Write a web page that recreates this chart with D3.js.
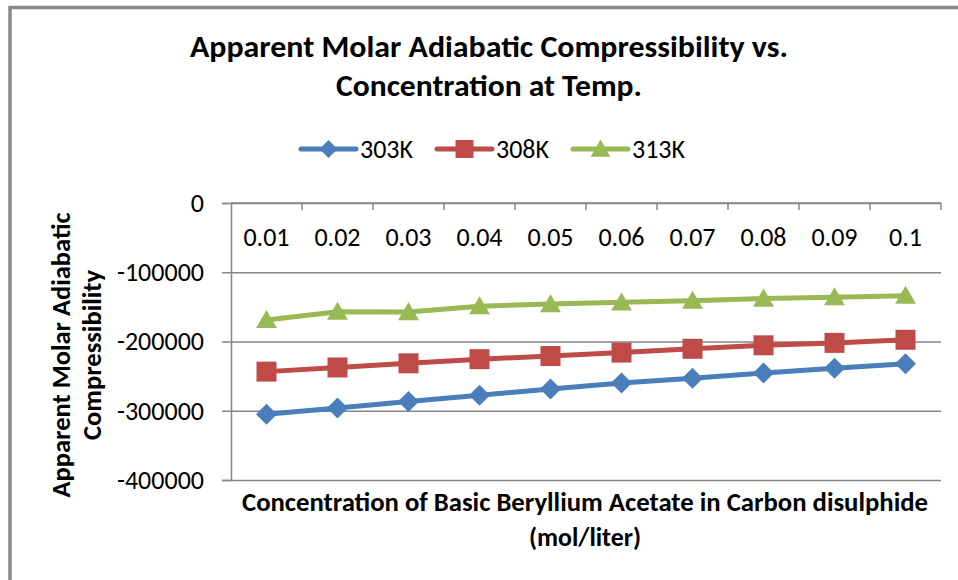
<!DOCTYPE html>
<html>
<head>
<meta charset="utf-8">
<script src="https://cdn.jsdelivr.net/npm/d3@7"></script>
<style>
  html, body { margin: 0; padding: 0; background: #fff; }
  svg { display: block; }
  text { font-family: Carlito, Calibri, Lato, "Open Sans", sans-serif; fill: #000; }
</style>
</head>
<body>
<svg id="chart" width="958" height="580"></svg>
<script>
const categories = ["0.01", "0.02", "0.03", "0.04", "0.05", "0.06", "0.07", "0.08", "0.09", "0.1"];
const seriesNames = ["303K", "308K", "313K"];
const values303 = [-305000, -296000, -286500, -277500, -268500, -260000, -253000, -245500, -238500, -232000];
const values308 = [-243500, -237500, -231500, -225500, -221000, -216000, -210500, -205500, -202000, -197500];
const values313 = [-169000, -157000, -157500, -149000, -146000, -143500, -141000, -138000, -136000, -134000];
const yTicks = [0, -100000, -200000, -300000, -400000];
const colors = ["#4a7ebb", "#be4b48", "#98b954"];
const shapes = ["diamond", "square", "triangle"];

const series = [values303, values308, values313].map((v, i) => ({
  name: seriesNames[i], values: v, color: colors[i], shape: shapes[i]
}));

const svg = d3.select("#chart");
const plotLeft = 231, plotRight = 941, plotTop = 203, plotBottom = 480;

const x = d3.scaleBand().domain(categories).range([plotLeft, plotRight]);
const y = d3.scaleLinear().domain([-400000, 0]).range([plotBottom, plotTop]);

// Outer chart frame
svg.append("path")
  .attr("d", "M10,600 L10,7.5 L970,7.5")
  .attr("fill", "none").attr("stroke", "#898989").attr("stroke-width", 3.5);

// Title
const title = svg.append("g").attr("font-weight", "bold");
title.append("text").attr("x", 489).attr("y", 57).attr("text-anchor", "middle")
  .attr("font-size", 30).attr("textLength", 598).attr("lengthAdjust", "spacingAndGlyphs")
  .text("Apparent Molar Adiabatic Compressibility vs.");
title.append("text").attr("x", 489).attr("y", 96).attr("text-anchor", "middle")
  .attr("font-size", 30).attr("textLength", 306).attr("lengthAdjust", "spacingAndGlyphs")
  .text("Concentration at Temp.");

// Gridlines
svg.append("g").attr("transform", `translate(${plotLeft},0)`)
  .call(d3.axisLeft(y).tickValues(yTicks).tickSize(-(plotRight - plotLeft)).tickFormat(""))
  .call(g => g.select(".domain").remove())
  .call(g => g.selectAll("line").attr("stroke", "#868686").attr("stroke-width", 1.5));

// Y axis
svg.append("g").attr("transform", `translate(${plotLeft},0)`)
  .call(d3.axisLeft(y).tickValues(yTicks).tickSize(9).tickPadding(18).tickFormat(d => String(d)))
  .call(g => g.select(".domain").attr("stroke", "#868686").attr("stroke-width", 1.5))
  .call(g => g.selectAll("line").attr("stroke", "#868686").attr("stroke-width", 1.5))
  .call(g => g.selectAll("text").attr("font-size", 26).attr("font-family", "Carlito, Calibri, Lato, sans-serif").attr("fill", "#000"));

// X axis at y=0 (top)
const xg = svg.append("g");
xg.append("line").attr("x1", plotLeft).attr("x2", plotRight).attr("y1", y(0)).attr("y2", y(0))
  .attr("stroke", "#868686").attr("stroke-width", 1.5);
const boundaries = categories.map(c => x(c) + x.bandwidth());
xg.selectAll("line.tick").data(boundaries).enter().append("line").attr("class", "tick")
  .attr("x1", d => d).attr("x2", d => d).attr("y1", y(0)).attr("y2", y(0) + 7)
  .attr("stroke", "#868686").attr("stroke-width", 1.5);
xg.selectAll("text").data(categories).enter().append("text")
  .attr("x", d => x(d) + x.bandwidth() / 2).attr("y", y(0) + 34).attr("dy", "0.34em")
  .attr("text-anchor", "middle").attr("font-size", 26).text(d => d);

// Axis titles
const yt = svg.append("g").attr("font-weight", "bold");
yt.append("text").attr("transform", "translate(70,355) rotate(-90)").attr("text-anchor", "middle")
  .attr("font-size", 27).attr("textLength", 285).attr("lengthAdjust", "spacingAndGlyphs")
  .text("Apparent Molar Adiabatic");
yt.append("text").attr("transform", "translate(101,355) rotate(-90)").attr("text-anchor", "middle")
  .attr("font-size", 27).attr("textLength", 170).attr("lengthAdjust", "spacingAndGlyphs")
  .text("Compressibility");
yt.append("text").attr("x", 585).attr("y", 511).attr("text-anchor", "middle")
  .attr("font-size", 27).attr("textLength", 686).attr("lengthAdjust", "spacingAndGlyphs")
  .text("Concentration of Basic Beryllium Acetate in Carbon disulphide");
yt.append("text").attr("x", 585).attr("y", 546).attr("text-anchor", "middle")
  .attr("font-size", 27).attr("textLength", 112).attr("lengthAdjust", "spacingAndGlyphs")
  .text("(mol/liter)");

// Marker paths
function markerPath(shape, r) {
  if (shape === "diamond") return `M0,${-r}L${r},0L0,${r}L${-r},0Z`;
  if (shape === "square") return `M${-r},${-r}H${r}V${r}H${-r}Z`;
  return `M0,${-r * 1.05}L${r * 1.1},${r * 0.85}L${-r * 1.1},${r * 0.85}Z`;
}

// Lines and markers
const line = d3.line().x((d, i) => x(categories[i]) + x.bandwidth() / 2).y(d => y(d));
series.forEach(s => {
  const g = svg.append("g");
  g.append("path").attr("d", line(s.values)).attr("fill", "none")
    .attr("stroke", s.color).attr("stroke-width", 5).attr("stroke-linejoin", "round").attr("stroke-linecap", "round");
  const r = s.shape === "diamond" ? 10.5 : (s.shape === "square" ? 10 : 9.5);
  g.selectAll("path.m").data(s.values).enter().append("path").attr("class", "m")
    .attr("transform", (d, i) => `translate(${x(categories[i]) + x.bandwidth() / 2},${y(d)})`)
    .attr("d", markerPath(s.shape, r)).attr("fill", s.color);
});

// Legend
const legendX = [301, 437, 573];
const legend = svg.append("g");
series.forEach((s, i) => {
  const lx = legendX[i], ly = 149;
  legend.append("line").attr("x1", lx).attr("x2", lx + 55).attr("y1", ly).attr("y2", ly)
    .attr("stroke", s.color).attr("stroke-width", 5).attr("stroke-linecap", "round");
  legend.append("path").attr("transform", `translate(${lx + 27.5},${ly})`)
    .attr("d", markerPath(s.shape, 9)).attr("fill", s.color);
  legend.append("text").attr("x", lx + 59).attr("y", ly).attr("dy", "0.35em")
    .attr("font-size", 26).text(s.name);
});
</script>
</body>
</html>
